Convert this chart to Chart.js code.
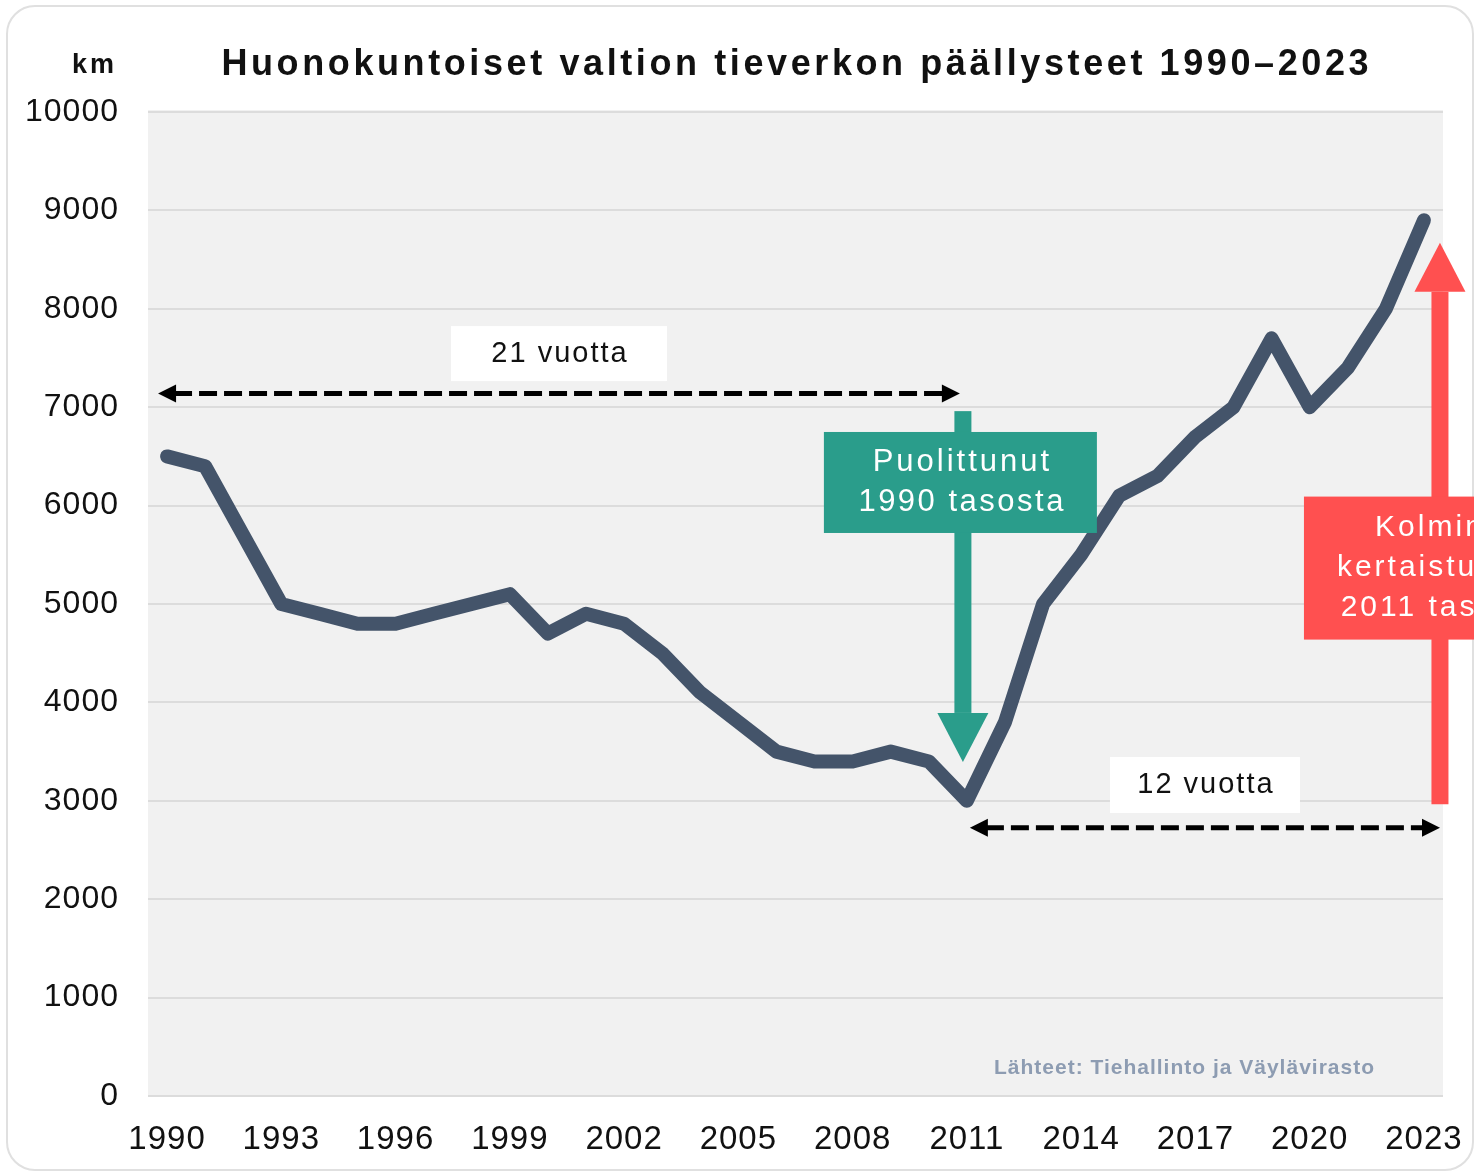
<!DOCTYPE html>
<html lang="fi">
<head>
<meta charset="utf-8">
<title>Huonokuntoiset valtion tieverkon päällysteet 1990–2023</title>
<script src="https://cdn.jsdelivr.net/npm/chart.js@4.4.1/dist/chart.umd.min.js"></script>
<style>
  html, body { margin: 0; padding: 0; background: #fff; }
  canvas { display: block; }
</style>
</head>
<body>
<canvas id="roadChart" width="1474" height="1172"></canvas>
<script>
// -------------------- Data --------------------
const years = [
  "1990", "1991", "1992", "1993", "1994", "1995", "1996", "1997", "1998", "1999",
  "2000", "2001", "2002", "2003", "2004", "2005", "2006", "2007", "2008", "2009",
  "2010", "2011", "2012", "2013", "2014", "2015", "2016", "2017", "2018", "2019",
  "2020", "2021", "2022", "2023"
];
const poorKm = [
  6500, 6400, 5700, 5000, 4900, 4800, 4800, 4900, 5000, 5100,
  4700, 4900, 4800, 4500, 4100, 3800, 3500, 3400, 3400, 3500,
  3400, 3000, 3800, 5000, 5500, 6100, 6300, 6700, 7000, 7700,
  7000, 7400, 8000, 8900
];
const yTickValues = [0, 1000, 2000, 3000, 4000, 5000, 6000, 7000, 8000, 9000, 10000];
const xTickLabels = ["1990", "1993", "1996", "1999", "2002", "2005", "2008", "2011", "2014", "2017", "2020", "2023"];

const titleText = "Huonokuntoiset valtion tieverkon päällysteet 1990–2023";
const unitText = "km";
const sourceText = "Lähteet: Tiehallinto ja Väylävirasto";
const span1Text = "21 vuotta";
const span2Text = "12 vuotta";
const halvedText = ["Puolittunut", "1990 tasosta"];
const tripledText = ["Kolmin-", "kertaistunut", "2011 tasosta"];

const FONT = "'Liberation Sans', Arial, sans-serif";
const LINE_COLOR = "#44546a";
const GREEN = "#2a9d8b";
const RED = "#ff5050";

// -------------------- Apufunktiot --------------------
function spacedText(ctx, text, x, y, font, color, align, spacing) {
  ctx.save();
  ctx.font = font;
  ctx.fillStyle = color;
  ctx.textBaseline = "middle";
  ctx.letterSpacing = spacing + "px";
  let w = ctx.measureText(text).width - spacing;
  let left = x;
  if (align === "center") left = x - w / 2;
  if (align === "right") left = x - w;
  ctx.textAlign = "left";
  ctx.fillText(text, left, y);
  ctx.restore();
}

function dashedArrow(ctx, x1, x2, y) {
  const head = 18;
  ctx.save();
  ctx.strokeStyle = "#000";
  ctx.fillStyle = "#000";
  ctx.lineWidth = 5;
  ctx.setLineDash([18, 7]);
  ctx.beginPath();
  ctx.moveTo(x1 + head - 2, y);
  ctx.lineTo(x2 - head + 2, y);
  ctx.stroke();
  ctx.setLineDash([]);
  ctx.beginPath();
  ctx.moveTo(x1, y);
  ctx.lineTo(x1 + head, y - 9);
  ctx.lineTo(x1 + head, y + 9);
  ctx.closePath();
  ctx.fill();
  ctx.beginPath();
  ctx.moveTo(x2, y);
  ctx.lineTo(x2 - head, y - 9);
  ctx.lineTo(x2 - head, y + 9);
  ctx.closePath();
  ctx.fill();
  ctx.restore();
}

// pystysuora nuoli, kärki kohdassa yTip
function blockArrow(ctx, x, yTail, yTip, color) {
  const shaft = 17, headW = 51, headL = 49;
  const dir = yTip > yTail ? 1 : -1;
  const yBase = yTip - dir * headL;
  ctx.save();
  ctx.fillStyle = color;
  ctx.fillRect(x - shaft / 2, Math.min(yTail, yBase), shaft, Math.abs(yBase - yTail));
  ctx.beginPath();
  ctx.moveTo(x - headW / 2, yBase);
  ctx.lineTo(x + headW / 2, yBase);
  ctx.lineTo(x, yTip);
  ctx.closePath();
  ctx.fill();
  ctx.restore();
}

function box(ctx, cx, cy, w, h, color) {
  ctx.fillStyle = color;
  ctx.fillRect(cx - w / 2, cy - h / 2, w, h);
}

// -------------------- Tausta ja kehys --------------------
const backgroundPlugin = {
  id: "background",
  beforeDraw(chart) {
    const ctx = chart.ctx;
    const a = chart.chartArea;
    ctx.save();
    ctx.fillStyle = "#fff";
    ctx.fillRect(0, 0, chart.width, chart.height);
    ctx.strokeStyle = "#e0e0e0";
    ctx.lineWidth = 2;
    ctx.beginPath();
    ctx.roundRect(7, 6, 1466, 1164, 28);
    ctx.stroke();
    ctx.fillStyle = "#f1f1f1";
    ctx.fillRect(a.left, a.top - 2, a.right - a.left, a.bottom - a.top + 3);
    ctx.restore();
    // akselien numeroihin hieman harvennusta
    chart.ctx.letterSpacing = "1px";
  },
  afterDraw(chart) {
    chart.ctx.letterSpacing = "0px";
  }
};

// -------------------- Otsikot ja merkinnät --------------------
const annotationPlugin = {
  id: "annotations",
  afterDatasetsDraw(chart) {
    const ctx = chart.ctx;
    const xs = chart.scales.x;
    const ys = chart.scales.y;
    const a = chart.chartArea;

    // otsikko, yksikkö, lähde
    spacedText(ctx, titleText, 795, 65, "bold 36px " + FONT, "#111", "center", 3.6);
    spacedText(ctx, unitText, 114, 66, "bold 27px " + FONT, "#111", "right", 3);
    spacedText(ctx, sourceText, 1374, ys.getPixelForValue(280), "bold 21px " + FONT, "#8d9cb2", "right", 1);

    // 21 vuotta
    const x1990 = xs.getPixelForValue(0);
    const x2011 = xs.getPixelForValue(21);
    const x2023 = xs.getPixelForValue(33);
    const left1 = x1990 - 9, right1 = x2011 - 7;
    box(ctx, (left1 + right1) / 2, ys.getPixelForValue(7545), 216, 55, "#fff");
    spacedText(ctx, span1Text, (left1 + right1) / 2, ys.getPixelForValue(7545), "29px " + FONT, "#111", "center", 2);
    dashedArrow(ctx, left1, right1, ys.getPixelForValue(7140));

    // 12 vuotta
    const left2 = x2011 + 3, right2 = a.right - 3;
    box(ctx, (left2 + right2) / 2, ys.getPixelForValue(3160), 190, 56, "#fff");
    spacedText(ctx, span2Text, (left2 + right2) / 2, ys.getPixelForValue(3160), "29px " + FONT, "#111", "center", 2);
    dashedArrow(ctx, left2, right2, ys.getPixelForValue(2725));

    // puolittunut
    const gx = x2011 - 4;
    blockArrow(ctx, gx, ys.getPixelForValue(6960), ys.getPixelForValue(3395), GREEN);
    const gy = ys.getPixelForValue(6235);
    box(ctx, gx - 2.5, gy, 273, 101, GREEN);
    spacedText(ctx, halvedText[0], gx - 2, gy - 20, "31px " + FONT, "#fff", "center", 3);
    spacedText(ctx, halvedText[1], gx - 2, gy + 20, "31px " + FONT, "#fff", "center", 2.5);

    // kolminkertaistunut
    const rx = x2023 + 16;
    blockArrow(ctx, rx, ys.getPixelForValue(2965), ys.getPixelForValue(8670), RED);
    const ry = ys.getPixelForValue(5365);
    ctx.fillStyle = RED;
    ctx.fillRect(x2023 - 120, ry - 71.5, 260, 143);
    spacedText(ctx, tripledText[0], x2023 + 11, ry - 40, "30px " + FONT, "#fff", "center", 3);
    spacedText(ctx, tripledText[1], x2023 + 7, ry, "30px " + FONT, "#fff", "center", 3);
    spacedText(ctx, tripledText[2], x2023 + 18, ry + 40, "30px " + FONT, "#fff", "center", 3);
  }
};

// -------------------- Kaavio --------------------
const ctx = document.getElementById("roadChart").getContext("2d");

const chart = new Chart(ctx, {
  type: "line",
  data: {
    labels: years,
    datasets: [{
      label: "Huonokuntoiset päällysteet (km)",
      data: poorKm,
      borderColor: LINE_COLOR,
      borderWidth: 14,
      borderJoinStyle: "round",
      borderCapStyle: "round",
      pointRadius: 0,
      tension: 0,
      fill: false
    }]
  },
  options: {
    responsive: false,
    animation: false,
    layout: {
      padding: { top: 112, right: 31, bottom: 0, left: 0 }
    },
    plugins: {
      legend: { display: false },
      tooltip: { enabled: false }
    },
    scales: {
      x: {
        offset: true,
        grid: { display: false, drawTicks: false },
        border: { display: false },
        ticks: {
          autoSkip: false,
          maxRotation: 0,
          padding: 24,
          color: "#111",
          font: { family: FONT, size: 33 },
          callback: function (value, index) {
            return xTickLabels.includes(years[index]) ? years[index] : "";
          }
        },
        afterFit: function (scale) {
          scale.height = 76;
          scale.paddingLeft = 0;
          scale.paddingRight = 0;
        }
      },
      y: {
        min: 0,
        max: 10000,
        afterBuildTicks: function (axis) {
          axis.ticks = yTickValues.map(v => ({ value: v }));
        },
        grid: { color: "#dcdcdc", lineWidth: 2, drawTicks: false },
        border: { display: false },
        ticks: {
          padding: 29,
          color: "#111",
          font: { family: FONT, size: 32 },
          callback: function (value) { return String(value); }
        },
        afterFit: function (scale) {
          scale.width = 148;
          scale.paddingTop = 0;
          scale.paddingBottom = 0;
        }
      }
    }
  },
  plugins: [backgroundPlugin, annotationPlugin]
});
</script>
</body>
</html>
